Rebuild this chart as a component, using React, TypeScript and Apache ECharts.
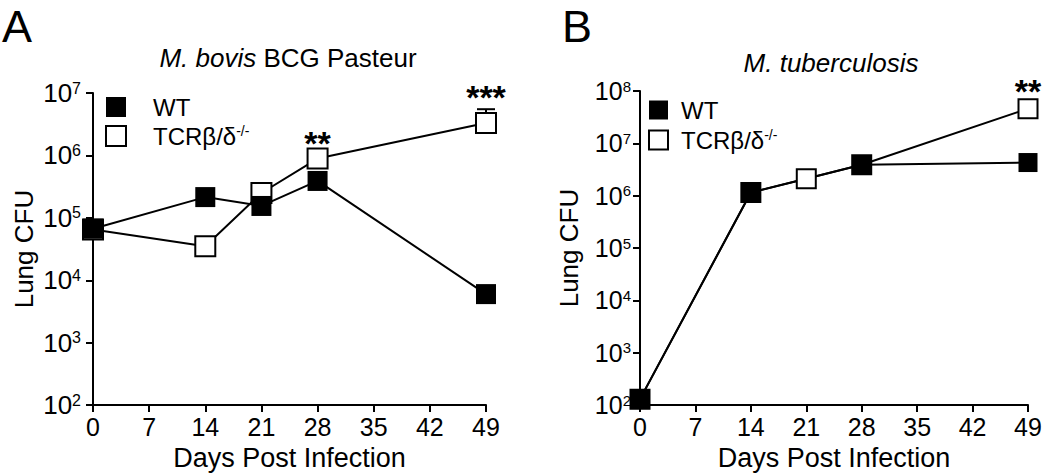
import React, { useEffect, useRef } from 'react';
import * as echarts from 'echarts';

// ---- data ----
const xTicks = [0, 7, 14, 21, 28, 35, 42, 49];

const daysA = [0, 14, 21, 28, 49];
const wtA = [6.7e4, 2.15e5, 1.55e5, 3.9e5, 6.0e3];
const tcrA = [6.5e4, 3.5e4, 2.5e5, 8.9e5, 3.3e6];
const tcrAUpper = [null, null, null, null, 5.5e6];
const tcrAStars = ['', '', '', '**', '***'];

const daysB = [0, 14, 21, 28, 49];
const wtB = [1.3e2, 1.15e6, null, 3.9e6, 4.3e6];
const tcrB = [1.3e2, 1.15e6, 2.1e6, 3.9e6, 4.6e7];
const tcrBUpper = [null, null, null, null, null];
const tcrBStars = ['', '', '', '', '**'];

const FONT = '"Liberation Sans", Arial, Helvetica, sans-serif';
const BLACK = '#000000';

function buildSeriesData(
  days: number[],
  vals: (number | null)[],
  stars?: string[],
  uppers?: (number | null)[],
  dy = 0
) {
  return days.map((d, i) => {
    const v = vals[i];
    const item: any = { value: [d, v == null ? '-' : v] };
    if (stars && stars[i]) {
      const hasBar = uppers && uppers[i] != null;
      item.label = {
        show: true,
        position: 'top',
        distance: 0,
        offset: [0, hasBar ? dy - 10 : dy],
        formatter: stars[i],
        fontSize: 34,
        fontWeight: 'bold',
        color: BLACK,
        fontFamily: FONT,
      };
    }
    return item;
  });
}

function yAxisCfg(gridIndex: number, max: number, labelSize: number, supSize: number, margin: number, nameGap: number) {
  return {
    type: 'log',
    logBase: 10,
    gridIndex,
    min: 100,
    max,
    name: 'Lung CFU',
    nameLocation: 'middle',
    nameGap,
    nameTextStyle: { fontSize: 26, color: BLACK, fontFamily: FONT },
    axisLine: { show: true, lineStyle: { color: BLACK, width: 2 } },
    axisTick: { show: true, length: 7, lineStyle: { color: BLACK, width: 2 } },
    splitLine: { show: false },
    minorTick: { show: false },
    axisLabel: {
      margin,
      color: BLACK,
      fontFamily: FONT,
      formatter: (v: number) => `{b|10}{s|${Math.round(Math.log10(v))}}`,
      rich: {
        b: { fontSize: labelSize, color: BLACK, fontFamily: FONT },
        s: { fontSize: supSize, color: BLACK, fontFamily: FONT, verticalAlign: 'top' },
      },
    },
  };
}

function xAxisCfg(gridIndex: number) {
  return {
    type: 'value',
    gridIndex,
    min: xTicks[0],
    max: xTicks[xTicks.length - 1],
    interval: 7,
    name: 'Days Post Infection',
    nameLocation: 'middle',
    nameGap: 37,
    nameTextStyle: { fontSize: 27, color: BLACK, fontFamily: FONT },
    axisLine: { show: true, lineStyle: { color: BLACK, width: 2 } },
    axisTick: { show: true, length: 7, lineStyle: { color: BLACK, width: 2 } },
    splitLine: { show: false },
    axisLabel: { fontSize: 25, margin: 9, color: BLACK, fontFamily: FONT },
  };
}

function lineSeries(name: string, xi: number, data: any[], filled: boolean, size: number) {
  return {
    type: 'line',
    name,
    xAxisIndex: xi,
    yAxisIndex: xi,
    data,
    connectNulls: true,
    symbol: 'rect',
    symbolSize: size,
    lineStyle: { color: BLACK, width: 2 },
    itemStyle: filled
      ? { color: BLACK, borderColor: BLACK, borderWidth: 0 }
      : { color: '#ffffff', borderColor: BLACK, borderWidth: 2 },
    emphasis: { disabled: true },
  };
}

function legendCfg(left: number, top: number, size: number, textPad: number, gap: number) {
  return {
    left,
    top,
    orient: 'vertical',
    padding: 0,
    itemWidth: size,
    itemHeight: size,
    itemGap: gap,
    selectedMode: false,
    data: [
      { name: 'WT', icon: 'rect', itemStyle: { color: BLACK, borderColor: BLACK, borderWidth: 0 } },
      { name: 'TCRβ/δ-/-', icon: 'rect', itemStyle: { color: '#ffffff', borderColor: BLACK, borderWidth: 2 } },
    ],
    formatter: (n: string) => (n === 'WT' ? '{n|WT}' : '{n|TCRβ/δ}{s|-/-}'),
    textStyle: {
      color: BLACK,
      fontFamily: FONT,
      fontSize: 24,
      rich: {
        n: { fontSize: 24, color: BLACK, fontFamily: FONT, padding: [0, 0, 0, textPad] },
        s: { fontSize: 14, color: BLACK, fontFamily: FONT, verticalAlign: 'top' },
      },
    },
  };
}

function errorBarSeries(xi: number, days: number[], vals: number[], uppers: (number | null)[]) {
  const data = days
    .map((d, i) => (uppers[i] == null ? null : [d, vals[i], uppers[i]]))
    .filter((x) => x != null);
  return {
    type: 'custom',
    xAxisIndex: xi,
    yAxisIndex: xi,
    data,
    silent: true,
    renderItem: (_p: any, api: any) => {
      const x = api.value(0);
      const top = api.coord([x, api.value(2)]);
      const bot = api.coord([x, api.value(1)]);
      const st = { stroke: BLACK, lineWidth: 2 };
      return {
        type: 'group',
        children: [
          { type: 'line', shape: { x1: top[0], y1: top[1], x2: bot[0], y2: bot[1] }, style: st },
          { type: 'line', shape: { x1: top[0] - 9, y1: top[1], x2: top[0] + 9, y2: top[1] }, style: st },
        ],
      };
    },
  };
}

export default function App() {
  const ref = useRef<HTMLDivElement>(null);
  useEffect(() => {
    if (!ref.current) return;
    const chart = echarts.init(ref.current, undefined, { renderer: 'svg' });
    const option: any = {
      animation: false,
      backgroundColor: '#ffffff',
      textStyle: { fontFamily: FONT },
      grid: [
        { left: 93, top: 93, width: 393, height: 314 },
        { left: 640, top: 91, width: 388, height: 315 },
      ],
      xAxis: [xAxisCfg(0), xAxisCfg(1)],
      yAxis: [yAxisCfg(0, 1e7, 26, 16, 12, 56), yAxisCfg(1, 1e8, 25, 15, 9, 58)],
      legend: [legendCfg(105, 95, 20, 22, 5), legendCfg(648, 98, 19, 8, 6)],
      graphic: [
        { type: 'text', left: 2, top: 4, style: { text: 'A', fontSize: 45, fill: BLACK, fontFamily: FONT } },
        { type: 'text', left: 562, top: 4, style: { text: 'B', fontSize: 45, fill: BLACK, fontFamily: FONT } },
        {
          type: 'text',
          x: 288,
          y: 58,
          style: {
            text: '{i|M. bovis} BCG Pasteur',
            fontSize: 26,
            fill: BLACK,
            fontFamily: FONT,
            align: 'center',
            verticalAlign: 'middle',
            rich: { i: { fontStyle: 'italic', fontSize: 26, fontFamily: FONT, fill: BLACK } },
          },
        },
        {
          type: 'text',
          x: 831,
          y: 63,
          style: {
            text: 'M. tuberculosis',
            fontSize: 26,
            fontStyle: 'italic',
            fill: BLACK,
            fontFamily: FONT,
            align: 'center',
            verticalAlign: 'middle',
          },
        },
      ],
      series: [
        errorBarSeries(0, daysA, tcrA, tcrAUpper),
        lineSeries('TCRβ/δ-/-', 0, buildSeriesData(daysA, tcrA, tcrAStars, tcrAUpper, 12), false, 20),
        lineSeries('WT', 0, buildSeriesData(daysA, wtA), true, 20),
        lineSeries('TCRβ/δ-/-', 1, buildSeriesData(daysB, tcrB, tcrBStars, tcrBUpper, 10), false, 19),
        lineSeries('WT', 1, buildSeriesData(daysB, wtB), true, 19),
      ],
    };
    chart.setOption(option);
    return () => chart.dispose();
  }, []);
  return (
    <div
      ref={ref}
      style={{ position: 'fixed', left: 0, top: 0, width: 1050, height: 476, background: '#fff' }}
    />
  );
}
